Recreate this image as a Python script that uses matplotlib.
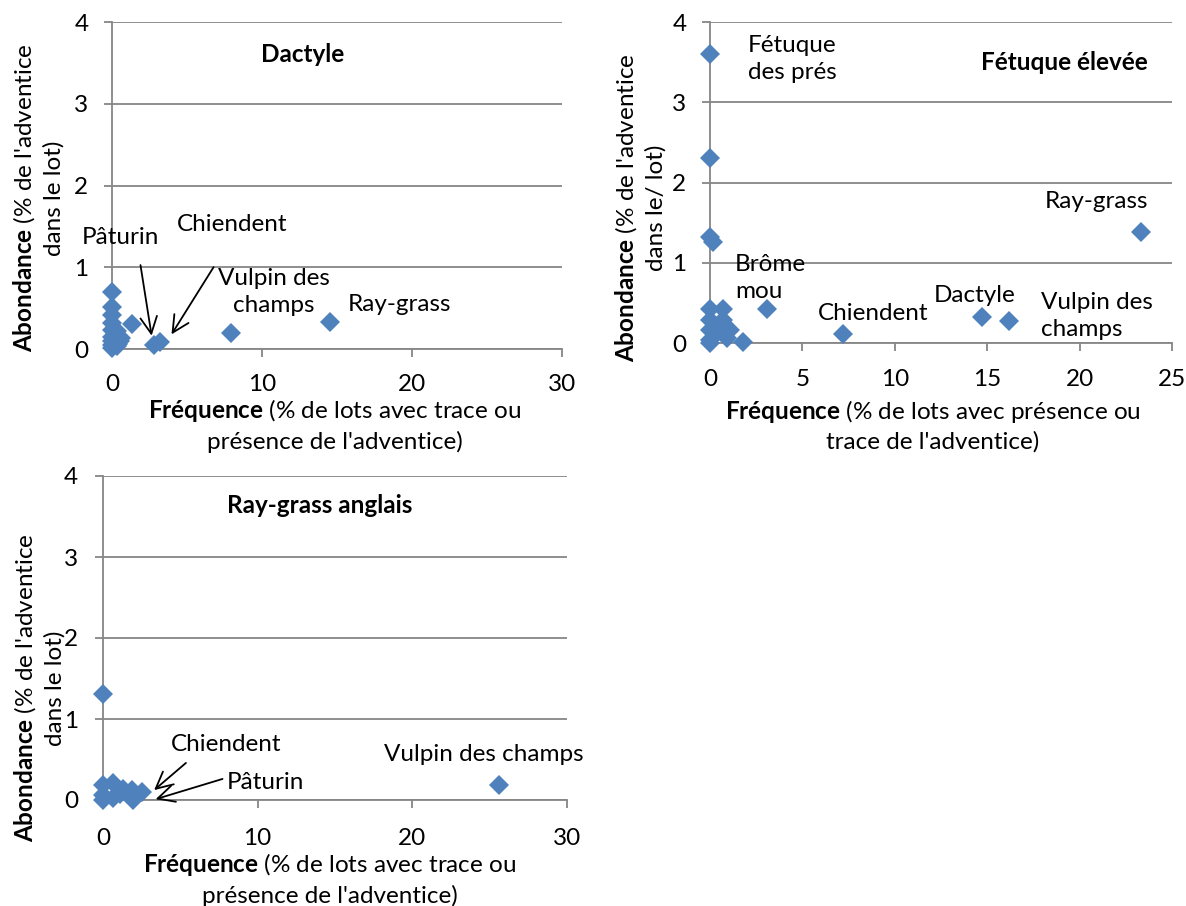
import matplotlib
matplotlib.use('Agg')
import matplotlib.pyplot as plt

plt.rcParams['font.family'] = ['Lato', 'DejaVu Sans']
plt.rcParams['mathtext.fontset'] = 'custom'
plt.rcParams['mathtext.rm'] = 'Lato'
plt.rcParams['mathtext.bf'] = 'Lato:bold'

# Dactyle
dac_x = [0, 0, 0, 0, 0, 0, 0, 0, 0, 0.3, 0.2, 0.5, 0.6, 0.35, 0.4, 1.3, 2.8, 3.2, 7.9, 14.5]
dac_y = [0.7, 0.51, 0.42, 0.32, 0.23, 0.15, 0.1, 0.05, 0.01, 0.22, 0.12, 0.1, 0.13, 0.04, 0.06, 0.3, 0.05, 0.09, 0.19, 0.33]

# Fetuque elevee
fet_x = [0, 0, 0, 0.15, 0, 0.72, 0, 0.72, 0.36, 0, 1.08, 0, 0, 0.9, 1.8, 3.07, 7.2, 14.7, 16.2, 23.3]
fet_y = [3.6, 2.3, 1.32, 1.26, 0.42, 0.42, 0.29, 0.29, 0.16, 0.16, 0.16, 0.04, 0.0, 0.06, 0.01, 0.42, 0.11, 0.32, 0.27, 1.38]

# Ray-grass anglais
rga_x = [0, 0, 0.67, 1.3, 1.85, 2.5, 0, 0.67, 1.08, 1.96, 0, 25.6]
rga_y = [1.31, 0.19, 0.21, 0.14, 0.12, 0.1, 0.06, 0.02, 0.08, 0.0, 0.0, 0.19]

W, H = 1186, 906
blue = '#4F81BD'
grey = '#868686'
fs = 17.5
ls = 1.37

fig = plt.figure(figsize=(W / 100, H / 100), dpi=100)


def box(l, t, r, b):
    return [l / W, 1 - b / H, (r - l) / W, (b - t) / H]


def px(x, y):
    return x / W, 1 - y / H


def style(ax, xmax, xstep, ypad, xpad):
    ax.set_xlim(0, xmax)
    ax.set_ylim(0, 4)
    ax.set_xticks(range(0, xmax + 1, xstep))
    ax.set_yticks(range(0, 5))
    for s in ['top', 'right']:
        ax.spines[s].set_visible(False)
    for s in ['left', 'bottom']:
        ax.spines[s].set_color(grey)
        ax.spines[s].set_linewidth(1.3)
    ax.yaxis.grid(True, color=grey, lw=1.3)
    ax.set_axisbelow(True)
    ax.tick_params(axis='both', colors=grey, width=1.3, length=6, labelsize=fs, labelcolor='black')
    ax.tick_params(axis='y', pad=ypad)
    ax.tick_params(axis='x', pad=xpad)


def dots(ax, x, y):
    ax.plot(x, y, 'D', color=blue, ms=10, mew=0, clip_on=False, zorder=3)


def arrow(ax, head, tail):
    ax.annotate('', xy=head, xytext=tail,
                arrowprops=dict(arrowstyle='->', color='black', lw=1.3, mutation_scale=30))


# panel 1
ax1 = fig.add_axes(box(112, 22, 562, 349))
style(ax1, 30, 10, 11, 12)
dots(ax1, dac_x, dac_y)
ax1.text(12.7, 3.6, 'Dactyle', fontsize=fs, fontweight='bold', ha='center', va='center')
ax1.text(0.53, 1.37, 'Pâturin', fontsize=fs, ha='center', va='center')
ax1.text(8.0, 1.52, 'Chiendent', fontsize=fs, ha='center', va='center')
ax1.text(10.8, 0.7, 'Vulpin des\nchamps', fontsize=fs, ha='center', va='center', linespacing=ls)
ax1.text(19.2, 0.54, 'Ray-grass', fontsize=fs, ha='center', va='center')
arrow(ax1, (2.67, 0.13), (1.87, 1.06))
arrow(ax1, (3.87, 0.15), (6.87, 1.03))

# panel 2
ax2 = fig.add_axes(box(710, 22, 1172, 343))
style(ax2, 25, 5, 11, 13)
dots(ax2, fet_x, fet_y)
ax2.text(19.2, 3.49, 'Fétuque élevée', fontsize=fs, fontweight='bold', ha='center', va='center')
ax2.text(2.06, 3.54, 'Fétuque\ndes prés', fontsize=fs, ha='left', va='center', linespacing=ls)
ax2.text(20.9, 1.76, 'Ray-grass', fontsize=fs, ha='center', va='center')
ax2.text(1.35, 0.81, 'Brôme\nmou', fontsize=fs, ha='left', va='center', linespacing=ls)
ax2.text(8.82, 0.37, 'Chiendent', fontsize=fs, ha='center', va='center')
ax2.text(14.3, 0.59, 'Dactyle', fontsize=fs, ha='center', va='center')
ax2.text(17.9, 0.34, 'Vulpin des\nchamps', fontsize=fs, ha='left', va='center', linespacing=ls)

# panel 3
ax3 = fig.add_axes(box(103, 476, 567, 800))
style(ax3, 30, 10, 12, 14)
dots(ax3, rga_x, rga_y)
ax3.text(14.0, 3.63, 'Ray-grass anglais', fontsize=fs, fontweight='bold', ha='center', va='center')
ax3.text(7.95, 0.68, 'Chiendent', fontsize=fs, ha='center', va='center')
ax3.text(10.5, 0.22, 'Pâturin', fontsize=fs, ha='center', va='center')
ax3.text(24.6, 0.56, 'Vulpin des champs', fontsize=fs, ha='center', va='center')
arrow(ax3, (3.17, 0.1), (5.5, 0.48))
arrow(ax3, (3.23, 0.0), (7.9, 0.27))

# axis titles
ylab = "$\\bf{Abondance}$ (% de l'adventice\ndans le lot)"
fig.text(*px(38, 198), ylab, rotation=90, fontsize=fs, ha='center', va='center', linespacing=ls)
fig.text(*px(640, 208), "$\\bf{Abondance}$ (% de l'adventice\ndans le/ lot)", rotation=90,
         fontsize=fs, ha='center', va='center', linespacing=ls)
fig.text(*px(39, 688), ylab, rotation=90, fontsize=fs, ha='center', va='center', linespacing=ls)

fig.text(*px(335, 425), "$\\bf{Fréquence}$ (% de lots avec trace ou\nprésence de l'adventice)",
         fontsize=fs, ha='center', va='center', linespacing=ls)
fig.text(*px(933, 425), "$\\bf{Fréquence}$ (% de lots avec présence ou\ntrace de l'adventice)",
         fontsize=fs, ha='center', va='center', linespacing=ls)
fig.text(*px(330, 879), "$\\bf{Fréquence}$ (% de lots avec trace ou\nprésence de l'adventice)",
         fontsize=fs, ha='center', va='center', linespacing=ls)

fig.savefig('out.png', dpi=100)
